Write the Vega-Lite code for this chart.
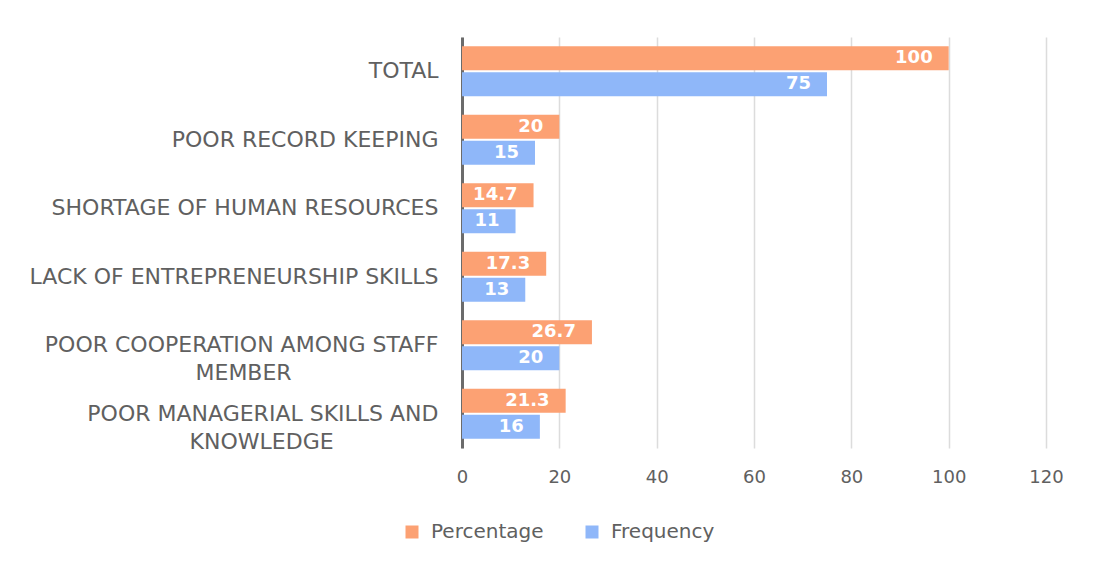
{
  "$schema": "https://vega.github.io/schema/vega-lite/v6.json",
  "width": 584,
  "height": 411,
  "autosize": {"type": "none"},
  "padding": {"left": 462, "top": 37, "right": 49, "bottom": 120},
  "background": "#ffffff",
  "config": {"view": {"stroke": null}},
  "data": {
    "values": [
      {"category": "TOTAL", "series": "Percentage", "value": 100},
      {"category": "TOTAL", "series": "Frequency", "value": 75},
      {"category": "POOR RECORD KEEPING", "series": "Percentage", "value": 20},
      {"category": "POOR RECORD KEEPING", "series": "Frequency", "value": 15},
      {"category": "SHORTAGE OF HUMAN RESOURCES", "series": "Percentage", "value": 14.7},
      {"category": "SHORTAGE OF HUMAN RESOURCES", "series": "Frequency", "value": 11},
      {"category": "LACK OF ENTREPRENEURSHIP SKILLS", "series": "Percentage", "value": 17.3},
      {"category": "LACK OF ENTREPRENEURSHIP SKILLS", "series": "Frequency", "value": 13},
      {"category": "POOR COOPERATION AMONG STAFF MEMBER", "series": "Percentage", "value": 26.7},
      {"category": "POOR COOPERATION AMONG STAFF MEMBER", "series": "Frequency", "value": 20},
      {"category": "POOR MANAGERIAL SKILLS AND KNOWLEDGE", "series": "Percentage", "value": 21.3},
      {"category": "POOR MANAGERIAL SKILLS AND KNOWLEDGE", "series": "Frequency", "value": 16}
    ]
  },
  "encoding": {
    "y": {
      "field": "category",
      "type": "nominal",
      "sort": ["TOTAL", "POOR RECORD KEEPING", "SHORTAGE OF HUMAN RESOURCES", "LACK OF ENTREPRENEURSHIP SKILLS", "POOR COOPERATION AMONG STAFF MEMBER", "POOR MANAGERIAL SKILLS AND KNOWLEDGE"],
      "scale": {"paddingInner": 0.27, "paddingOuter": 0.135},
      "axis": {
        "title": null,
        "ticks": false,
        "domainColor": "#6b6b6b",
        "domainWidth": 3,
        "labelFont": "DejaVu Sans",
        "labelFontSize": 22,
        "labelColor": "#606060",
        "labelPadding": 24,
        "labelLimit": 460,
        "labelLineHeight": 28,
        "labelExpr": "datum.value == 'POOR COOPERATION AMONG STAFF MEMBER' ? ['POOR COOPERATION AMONG STAFF', 'MEMBER\u00a0\u00a0\u00a0\u00a0\u00a0\u00a0\u00a0\u00a0\u00a0\u00a0\u00a0\u00a0\u00a0\u00a0\u00a0\u00a0\u00a0\u00a0\u00a0\u00a0\u00a0\u200b'] : datum.value == 'POOR MANAGERIAL SKILLS AND KNOWLEDGE' ? ['POOR MANAGERIAL SKILLS AND', 'KNOWLEDGE\u00a0\u00a0\u00a0\u00a0\u00a0\u00a0\u00a0\u00a0\u00a0\u00a0\u00a0\u00a0\u00a0\u00a0\u00a0\u200b'] : datum.value"
      }
    },
    "yOffset": {
      "field": "series",
      "type": "nominal",
      "sort": ["Percentage", "Frequency"],
      "scale": {"paddingInner": 0.08}
    },
    "x": {
      "field": "value",
      "type": "quantitative",
      "scale": {"domain": [0, 120]},
      "axis": {
        "title": null,
        "values": [0, 20, 40, 60, 80, 100, 120],
        "ticks": false,
        "domain": false,
        "grid": true,
        "gridColor": "#dcdcdc",
        "gridWidth": 1.5,
        "labelFlush": false,
        "labelFont": "DejaVu Sans",
        "labelFontSize": 18,
        "labelColor": "#606060",
        "labelPadding": 20
      }
    }
  },
  "layer": [
    {
      "mark": {"type": "bar"},
      "encoding": {
        "color": {
          "field": "series",
          "type": "nominal",
          "sort": ["Percentage", "Frequency"],
          "scale": {"domain": ["Percentage", "Frequency"], "range": ["#FCA173", "#8FB7F9"]},
          "legend": {
            "title": null,
            "orient": "none",
            "direction": "horizontal",
            "legendX": -60,
            "legendY": 485,
            "symbolType": "square",
            "symbolSize": 169,
            "symbolStrokeWidth": 0,
            "labelFont": "DejaVu Sans",
            "labelFontSize": 20,
            "labelColor": "#606060",
            "columnPadding": 38,
            "labelOffset": 9
          }
        }
      }
    },
    {
      "mark": {"type": "text", "align": "right", "baseline": "middle", "dx": -16, "color": "#ffffff", "font": "DejaVu Sans", "fontSize": 18, "fontWeight": "bold"},
      "encoding": {"text": {"field": "value", "type": "quantitative"}}
    }
  ]
}
